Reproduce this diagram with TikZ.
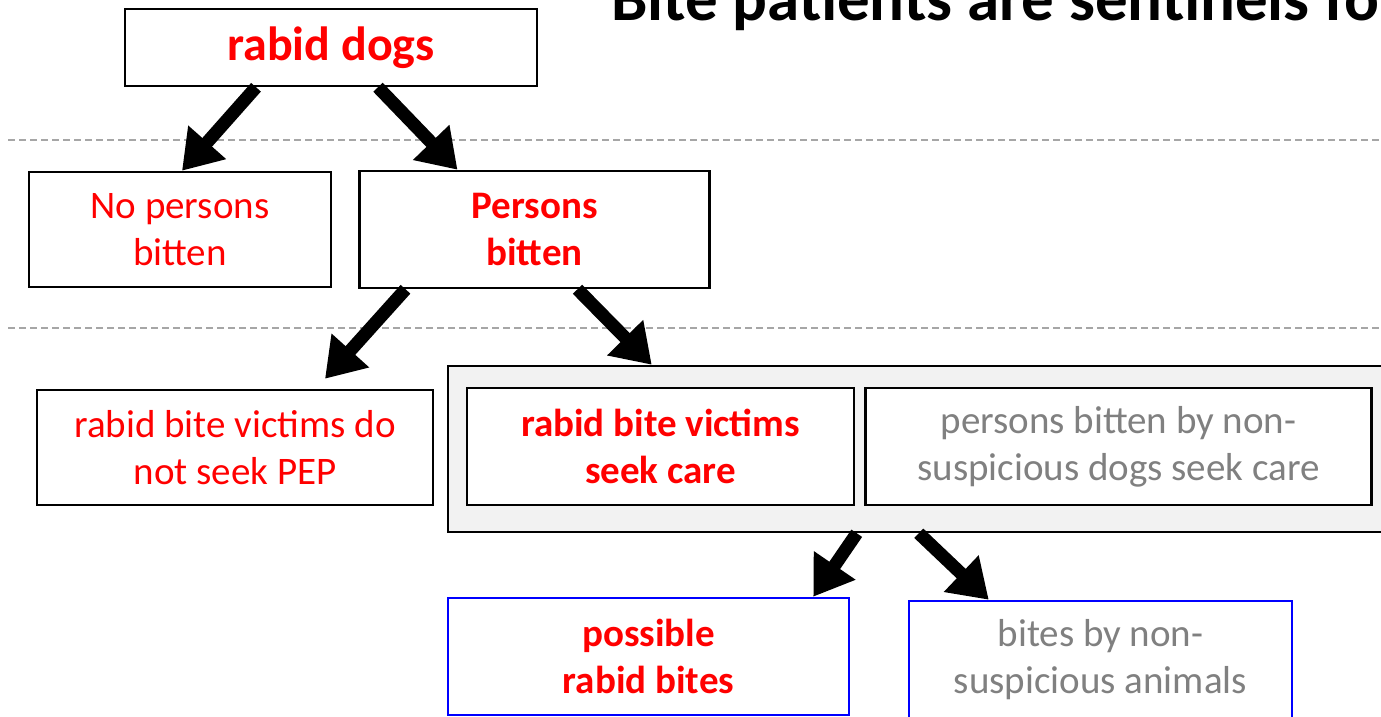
\documentclass[tikz,border=0pt]{standalone}
\usepackage{fontspec}
\setmainfont{Carlito}
\definecolor{rabidred}{RGB}{255,0,0}
\definecolor{mildgray}{RGB}{128,128,128}
\definecolor{sepgray}{RGB}{166,166,166}
\definecolor{carefill}{RGB}{242,242,242}
\definecolor{bluebox}{RGB}{0,0,255}
\usetikzlibrary{arrows.meta,positioning}

\begin{document}
\begin{tikzpicture}[x=1pt,y=-1pt,
  every node/.style={font=\fontsize{39}{47}\selectfont,align=center,inner sep=0pt},
  box/.style={draw,line width=2.5pt,fill=white},
  bluebox/.style={draw=bluebox,line width=2.5pt,fill=white},
  flow/.style={-{Triangle[length=38pt,width=48pt]},line width=13pt},
  sep/.style={sepgray,line width=2pt,dash pattern=on 7pt off 4pt}]
\path[use as bounding box,clip] (0,0) rectangle (1381,717);
% title, cut at the top
\node[anchor=base west,font=\fontsize{65}{70}\selectfont\bfseries] (title) at (611,21) {Bite patients are sentinels for};
% dividers
\draw[sep] (8,140) -- (1390,140);
\draw[sep] (8,328) -- (1390,328);
\node[box,minimum width=412pt,minimum height=77pt,text=rabidred,font=\fontsize{48}{56}\selectfont\bfseries] (dogs) at (331,47.5) {rabid dogs};
\node[box,minimum width=302pt,minimum height=115pt,text=rabidred] (nop) at (180,229.5) {No persons\\bitten};
\node[box,minimum width=350pt,minimum height=117pt,text=rabidred,font=\fontsize{39}{47}\selectfont\bfseries,right=26pt of nop] (pb) {Persons\\bitten};
\node[box,minimum width=396pt,minimum height=115pt,text=rabidred] (nopep) at (235,447.5) {rabid bite victims do\\not seek PEP};
\node[box,fill=carefill,minimum width=960pt,minimum height=166pt] (care) at (928,449) {};
\node[box,minimum width=387pt,minimum height=117pt,text=rabidred,font=\fontsize{39}{47}\selectfont\bfseries] (seek) at (660.5,446.5) {rabid bite victims\\seek care};
\node[box,minimum width=506pt,minimum height=117pt,text=mildgray,right=9pt of seek] (nonsus) {persons bitten by non-\\suspicious dogs seek care};
\node[bluebox,minimum width=401pt,minimum height=117pt,text=rabidred,font=\fontsize{39}{47}\selectfont\bfseries] (poss) at (648.5,656.5) {possible\\rabid bites};
\node[bluebox,minimum width=383pt,minimum height=118pt,text=mildgray] (bites) at (1100.5,660) {bites by non-\\suspicious animals};
\draw[flow] ([xshift=-75pt]dogs.south) -- ([xshift=2pt]nop.north);
\draw[flow] ([xshift=47pt]dogs.south) -- ([xshift=-77pt]pb.north);
\draw[flow] ([xshift=-129pt]pb.south) -- ([xshift=90pt,yshift=10pt]nopep.north);
\draw[flow] ([xshift=43pt]pb.south) -- ([xshift=205pt]care.north west);
\draw[flow] ([xshift=410pt]care.south west) -- ([xshift=-37pt]poss.north east);
\draw[flow] ([xshift=472pt]care.south west) -- ([xshift=81pt]bites.north west);
\end{tikzpicture}
\end{document}
